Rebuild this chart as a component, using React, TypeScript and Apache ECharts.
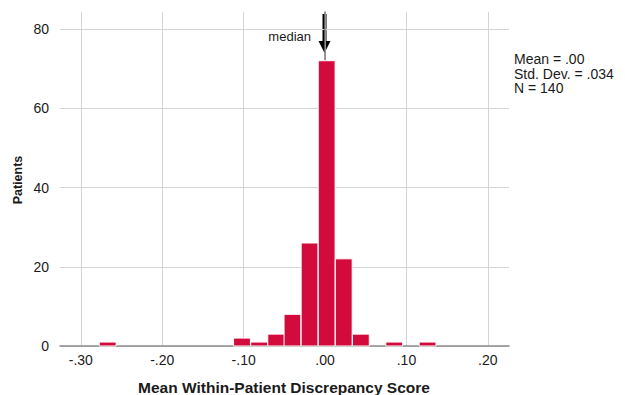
import React, { useEffect, useRef } from "react";
import * as echarts from "echarts";

const binCenters = [-0.267, -0.102, -0.081, -0.06, -0.04, -0.019, 0.002, 0.023, 0.044, 0.085, 0.126];
const counts = [1, 2, 1, 3, 8, 26, 72, 22, 3, 1, 1];
const binWidth = 0.0207;
const xTicks = [-0.3, -0.2, -0.1, 0, 0.1, 0.2];
const yTicks = [0, 20, 40, 60, 80];
const statsLines = ["Mean = .00", "Std. Dev. = .034", "N = 140"];
const xTitle = "Mean Within-Patient Discrepancy Score";
const yTitle = "Patients";
const medianLabel = "median";

const FONT = "'Liberation Sans', Arial, sans-serif";

export default function App() {
  const ref = useRef<HTMLDivElement>(null);
  useEffect(() => {
    document.body.style.margin = "0";
    if (!ref.current) return;
    const chart = echarts.init(ref.current, null, { renderer: "svg" });
    const data = binCenters.map((c, i) => [c, counts[i]]);
    const fmtX = (v: number) => {
      const s = Number(v).toFixed(2);
      return s.replace("0.", ".");
    };
    chart.setOption({
      animation: false,
      backgroundColor: "#fff",
      grid: { left: 60, right: 116, top: 12, bottom: 49, containLabel: false },
      xAxis: {
        type: "value",
        min: -0.3256,
        max: 0.226,
        axisLine: { show: true, onZero: false, lineStyle: { color: "#8c8c8c", width: 1.5 } },
        axisTick: { show: false, customValues: xTicks },
        splitLine: { show: true, lineStyle: { color: "#d4d4d4", width: 1 } },
        axisLabel: {
          customValues: xTicks,
          formatter: fmtX,
          color: "#1a1a1a",
          fontSize: 14,
          fontFamily: FONT,
          margin: 7,
        },
      },
      yAxis: {
        type: "value",
        min: 0,
        max: 84.3,
        axisLine: { show: true, lineStyle: { color: "#7a7a7a", width: 1.5 } },
        axisTick: { show: false, customValues: yTicks },
        splitLine: { show: true, lineStyle: { color: "#d4d4d4", width: 1 } },
        axisLabel: {
          customValues: yTicks,
          color: "#1a1a1a",
          fontSize: 14,
          fontFamily: FONT,
          margin: 11,
        },
      },
      series: [
        {
          type: "custom",
          data,
          encode: { x: 0, y: 1 },
          renderItem: (params: any, api: any) => {
            const c = api.value(0);
            const v = api.value(1);
            const p0 = api.coord([c - binWidth / 2, v]);
            const p1 = api.coord([c + binWidth / 2, 0]);
            return {
              type: "rect",
              shape: { x: p0[0], y: p0[1], width: p1[0] - p0[0], height: p1[1] - p0[1] },
              style: { fill: "#d30a3c", stroke: "#ffffff", lineWidth: 1 },
            };
          },
        },
      ],
      graphic: [
        {
          type: "text",
          x: 284,
          y: 387,
          style: {
            text: xTitle,
            font: `bold 15.5px ${FONT}`,
            fill: "#1a1a1a",
            align: "center",
            verticalAlign: "middle",
          },
        },
        {
          type: "text",
          x: 18,
          y: 180,
          rotation: Math.PI / 2,
          style: {
            text: yTitle,
            font: `bold 12.5px ${FONT}`,
            fill: "#1a1a1a",
            align: "center",
            verticalAlign: "middle",
          },
        },
        ...statsLines.map((t, i) => ({
          type: "text",
          x: 514,
          y: 59 + i * 14.6,
          style: {
            text: t,
            font: `14px ${FONT}`,
            fill: "#1a1a1a",
            align: "left",
            verticalAlign: "middle",
          },
        })),
        {
          type: "text",
          x: 311,
          y: 36,
          style: {
            text: medianLabel,
            font: `13px ${FONT}`,
            fill: "#1a1a1a",
            align: "right",
            verticalAlign: "middle",
          },
        },
        {
          type: "line",
          shape: { x1: 324.5, y1: 14, x2: 324.5, y2: 43 },
          style: { stroke: "#000", lineWidth: 4 },
        },
        {
          type: "polygon",
          shape: { points: [[318.5, 41], [330.5, 41], [324.5, 53]] },
          style: { fill: "#000" },
        },
      ],
    });
    return () => chart.dispose();
  }, []);
  return <div ref={ref} style={{ width: 625, height: 395 }} />;
}
